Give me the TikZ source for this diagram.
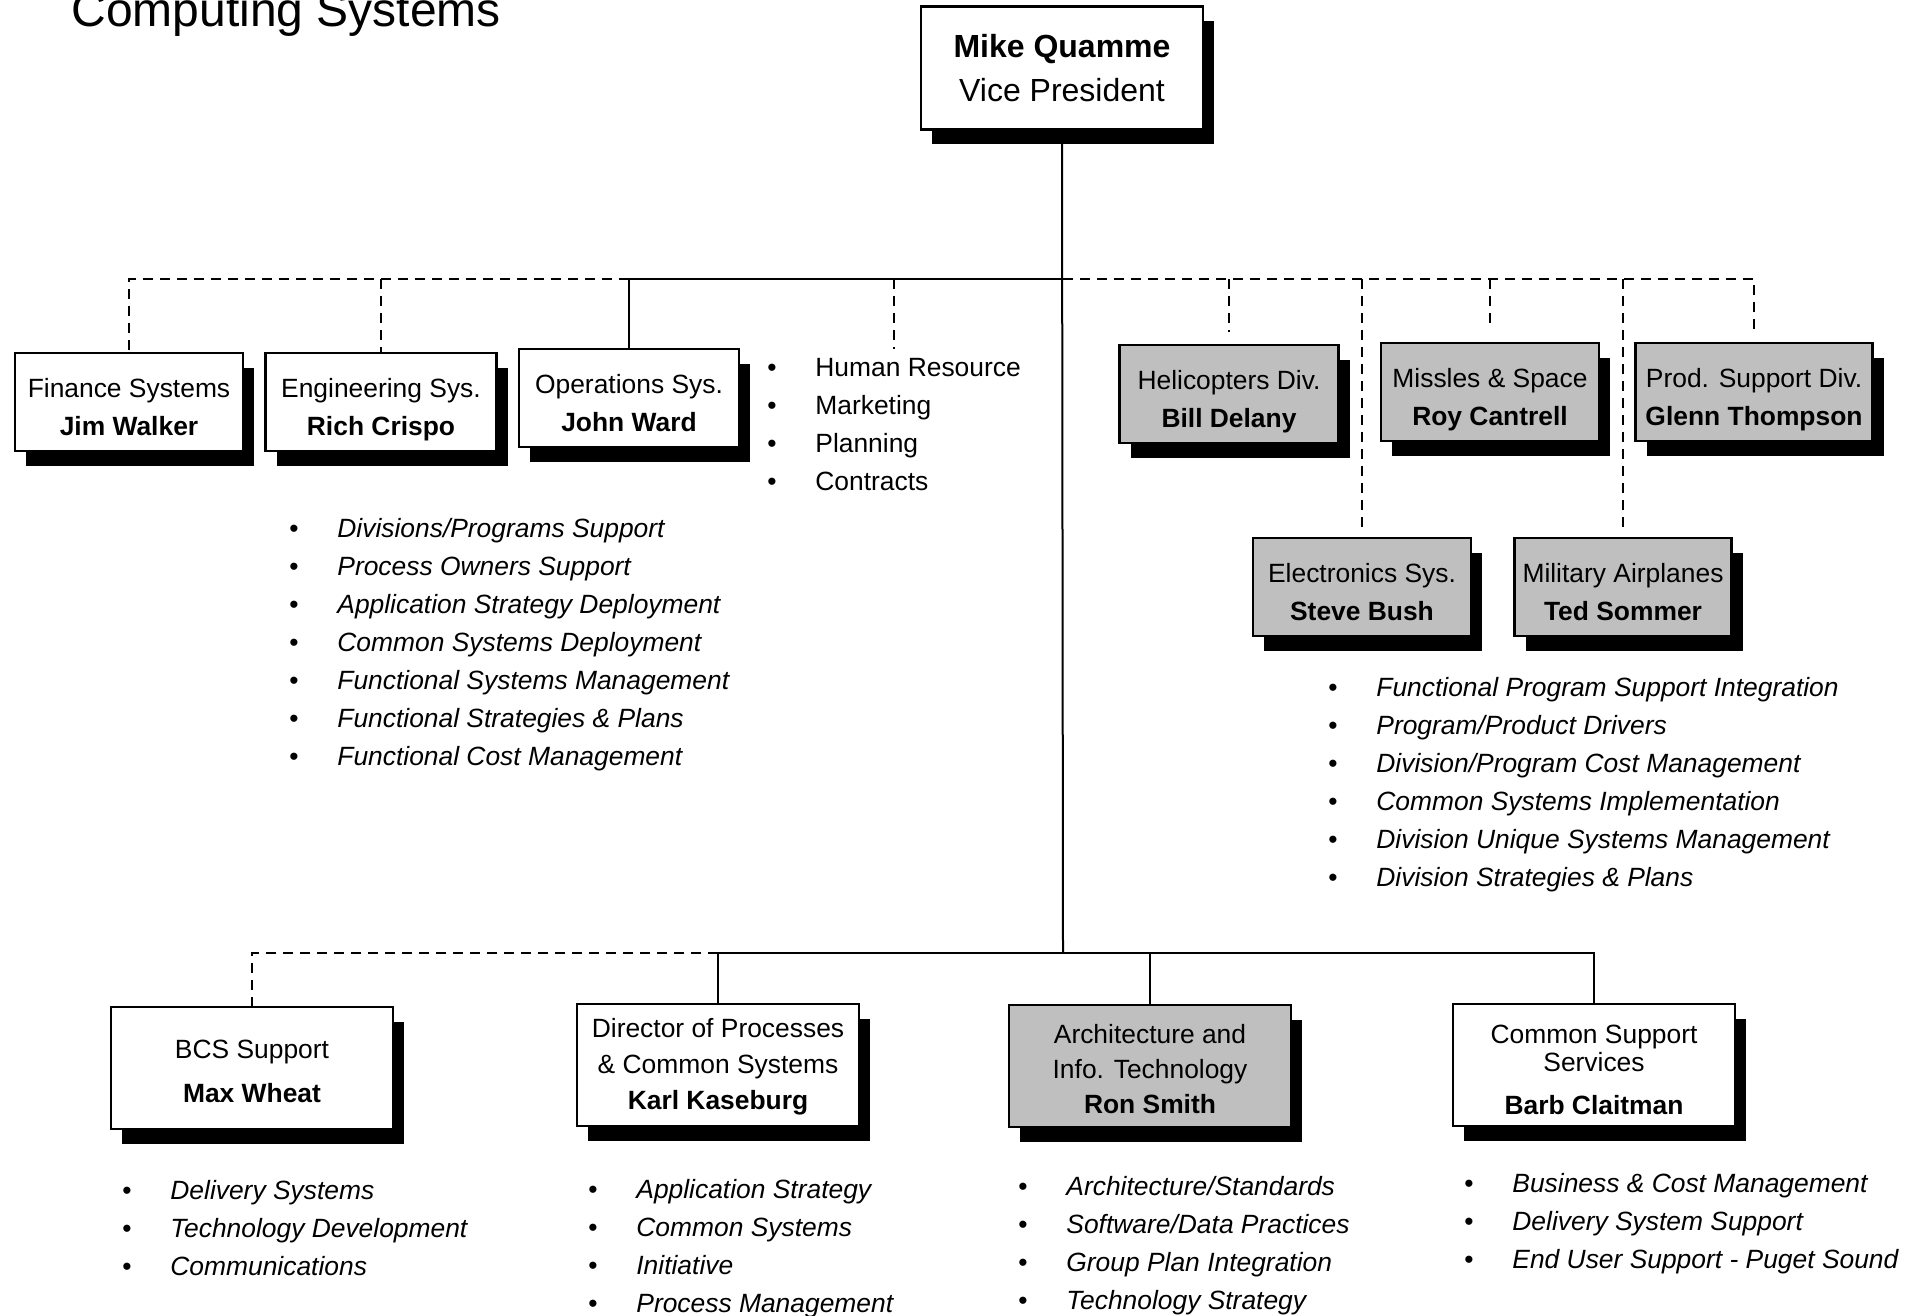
\documentclass[tikz,border=0pt]{standalone}
\usepackage{fontspec}
\setmainfont{Liberation Sans}
\usetikzlibrary{shadows}
\newcommand{\bul}{\makebox[24pt][l]{\upshape\textbullet}}
\newcommand{\topstrut}[1][18.5pt]{\rule{0pt}{#1}}
\newcommand{\botstrut}{\rule[-4pt]{0pt}{4pt}}

\begin{document}
\begin{tikzpicture}[
  x=0.5pt, y=-0.5pt,
  boxbase/.style={draw, line width=1.2pt, fill=white, inner sep=2pt, align=center,
               font=\fontsize{13.2}{19}\selectfont,
               drop shadow={shadow xshift=5.5pt, shadow yshift=-7.5pt, fill=black, opacity=1}},
  unit/.style={boxbase, minimum height=49pt},
  shaded/.style={unit, fill=black!25},
  head/.style={boxbase, minimum width=141pt, minimum height=61.5pt, font=\fontsize{16}{22}\selectfont},
  staff/.style={boxbase, minimum width=141pt, minimum height=61pt},
  duty/.style={anchor=west, inner sep=0pt, align=left, font=\fontsize{13.2}{19}\selectfont\itshape},
  link/.style={line width=1pt},
  dashlink/.style={line width=1pt, dash pattern=on 5pt off 3.5pt}
]
\useasboundingbox (0,0) rectangle (1921,1316);

% Title and head
\node[anchor=base west, inner sep=0pt, font=\fontsize{24}{28}\selectfont] (title) at (71,27) {Computing Systems};
\node[head] (vp) at (1062,68) {\textbf{Mike Quamme}\\Vice President};

% Row 1: systems and divisions
\node[unit, minimum width=114pt] (fin) at (129,402) {\topstrut Finance Systems\\\textbf{Jim Walker}\botstrut};
\node[unit, minimum width=115.5pt] (eng) at (381,402) {\topstrut Engineering Sys.\\\textbf{Rich Crispo}\botstrut};
\node[unit, minimum width=110pt] (ops) at (629,398) {\topstrut Operations Sys.\\\textbf{John Ward}\botstrut};
\node[shaded, minimum width=109.5pt] (hel) at (1229,394) {\topstrut Helicopters Div.\\\textbf{Bill Delany}\botstrut};
\node[shaded, minimum width=109pt] (mis) at (1490,392) {\topstrut Missles \& Space\\\textbf{Roy Cantrell}\botstrut};
\node[shaded, minimum width=118.5pt] (prod) at (1754,392) {\topstrut Prod. Support Div.\\\textbf{Glenn Thompson}\botstrut};
\node[shaded, minimum width=109pt] (elec) at (1362,587) {\topstrut Electronics Sys.\\\textbf{Steve Bush}\botstrut};
\node[shaded, minimum width=108.5pt] (mil) at (1623,587) {\topstrut Military Airplanes\\\textbf{Ted Sommer}\botstrut};

% Row 1: duties
\node[duty, font=\fontsize{13.2}{19}\selectfont] (hr) at (767,425) {\bul Human Resource\\\bul Marketing\\\bul Planning\\\bul Contracts};
\node[duty] (fundut) at (289,645) {\bul Divisions/Programs Support\\\bul Process Owners Support\\
  \bul Application Strategy Deployment\\\bul Common Systems Deployment\\\bul Functional Systems Management\\
  \bul Functional Strategies \& Plans\\\bul Functional Cost Management};
\node[duty] (divdut) at (1328,785) {\bul Functional Program Support Integration\\\bul Program/Product Drivers\\
  \bul Division/Program Cost Management\\\bul Common Systems Implementation\\
  \bul Division Unique Systems Management\\\bul Division Strategies \& Plans};

% Row 2: staff
\node[staff] (bcs) at (252,1068) {\topstrut[16.5pt]BCS Support\\[3pt]\textbf{Max Wheat}\botstrut};
\node[staff] (dir) at (718,1065) {\topstrut[12pt]Director of Processes\\[-1pt]\& Common Systems\\[-1pt]\textbf{Karl Kaseburg}\botstrut};
\node[staff, fill=black!25] (arch) at (1150,1066) {\topstrut[16.5pt]Architecture and\\[-1.5pt]Info. Technology\\[-1.5pt]\textbf{Ron Smith}\botstrut};
\node[staff] (css) at (1594,1065) {\topstrut[17.5pt]Common Support\\[-5pt]Services\\[2.5pt]\textbf{Barb Claitman}\botstrut};

% Row 2: duties
\node[duty] (bcsdut) at (122,1228) {\bul Delivery Systems\\\bul Technology Development\\\bul Communications};
\node[duty] (dirdut) at (588,1249) {\bul Application Strategy\\\bul Common Systems\\\bul Initiative\\\bul Process Management};
\node[duty] (archdut) at (1018,1246) {\bul Architecture/Standards\\\bul Software/Data Practices\\\bul Group Plan Integration\\\bul Technology Strategy};
\node[duty] (cssdut) at (1464,1224) {\bul Business \& Cost Management\\\bul Delivery System Support\\\bul End User Support - Puget Sound};

% Connectors
\coordinate (topbus) at (1063,279);
\coordinate (lowbus) at (1063,953);
\coordinate (hrtip) at (896,349);
\draw[link] (vp.south) -- (lowbus);
\draw[link] (topbus) -| (ops.north);
\draw[dashlink] (ops.north |- topbus) -| (fin.north);
\draw[dashlink] (eng.north |- topbus) -- (eng.north);
\draw[dashlink] (hr.north |- topbus) -- (hr.north |- hrtip);
\draw[dashlink, shorten >=6pt] (topbus) -| (prod.north);
\draw[dashlink, shorten >=6pt] (hel.north |- topbus) -- (hel.north);
\draw[dashlink, shorten >=6pt] (mis.north |- topbus) -- (mis.north);
\draw[dashlink, shorten >=4pt] (elec.north |- topbus) -- (elec.north);
\draw[dashlink, shorten >=4pt] (mil.north |- topbus) -- (mil.north);
\draw[link] (lowbus) -| (dir.north);
\draw[link] (lowbus) -| (css.north);
\draw[link] (arch.north |- lowbus) -- (arch.north);
\draw[dashlink] (dir.north |- lowbus) -| (bcs.north);
\end{tikzpicture}
\end{document}
